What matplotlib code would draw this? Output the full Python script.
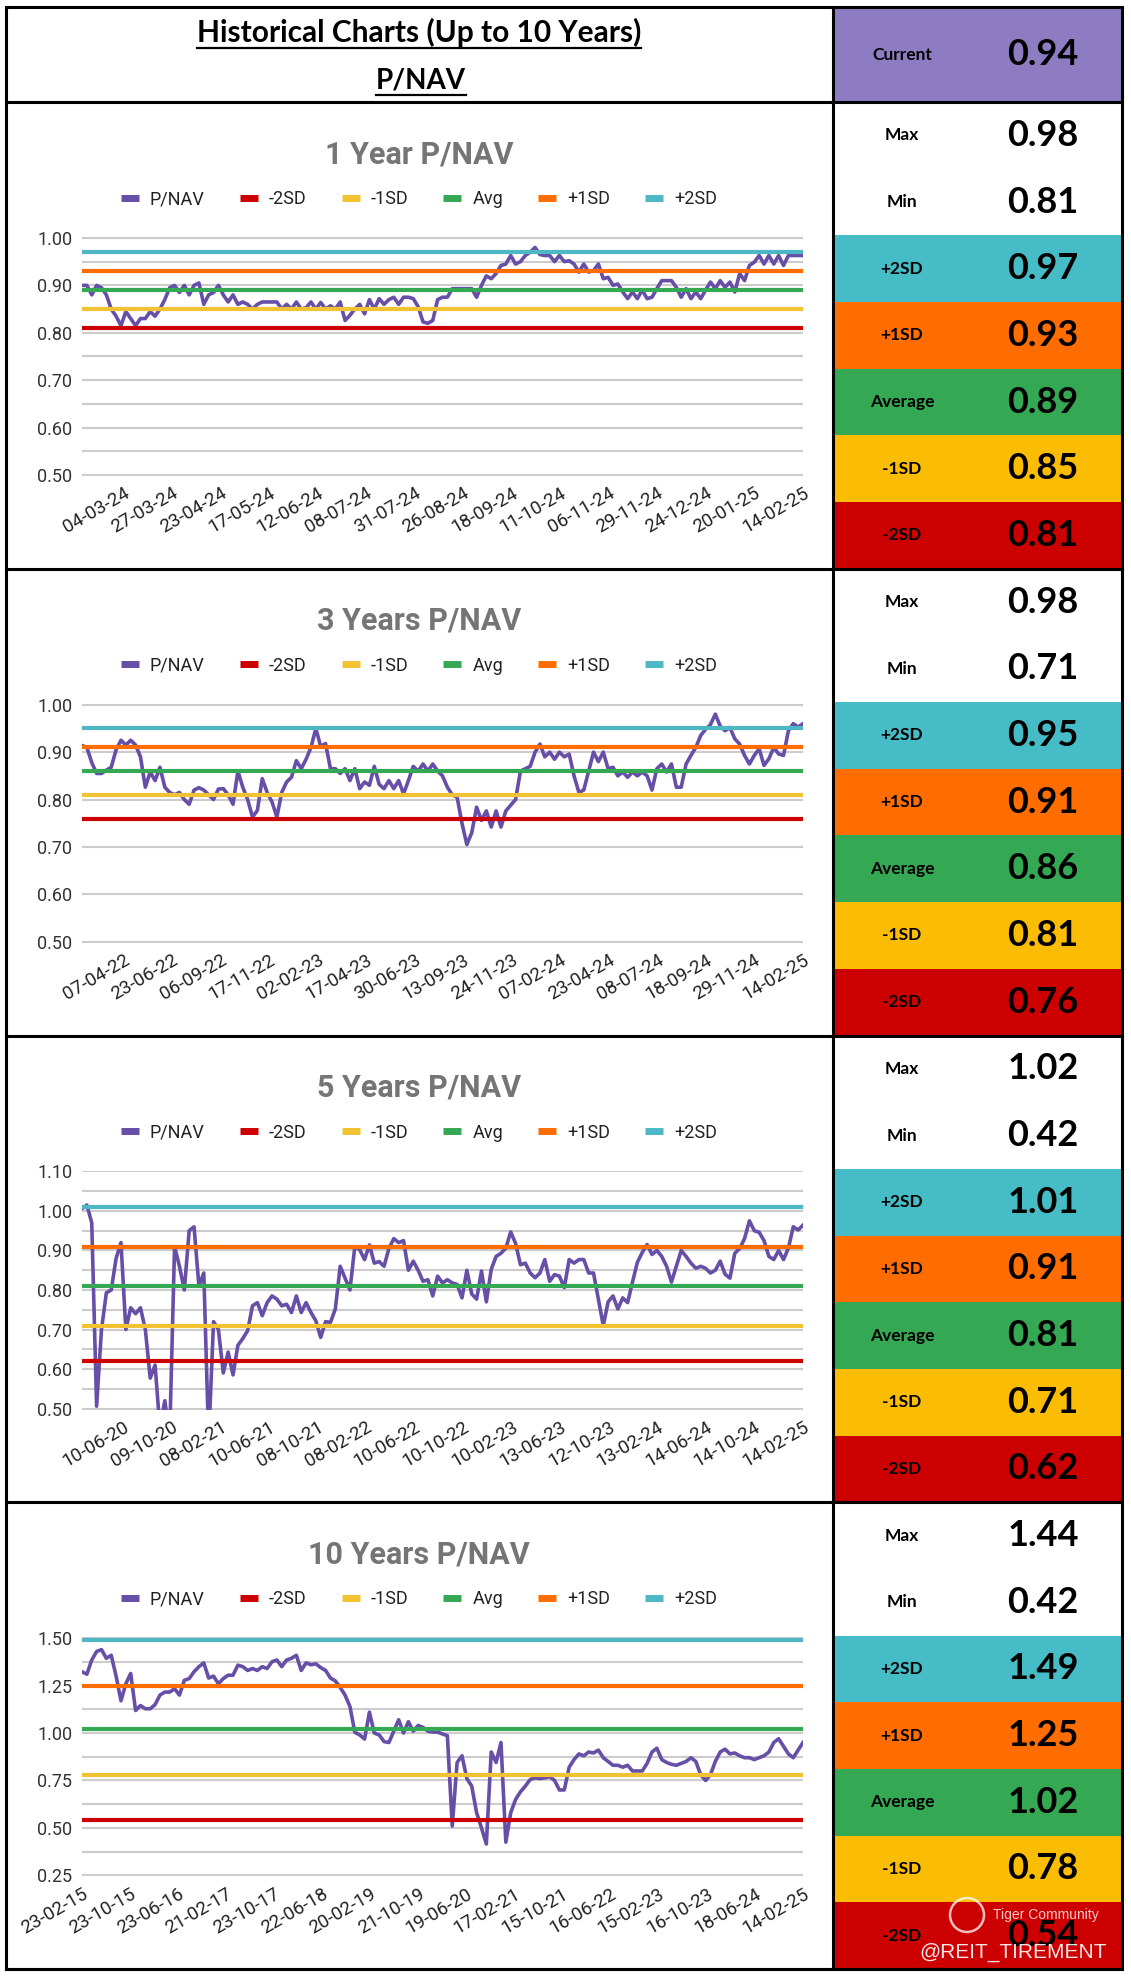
import numpy as np
import matplotlib.pyplot as plt
from matplotlib.lines import Line2D
from matplotlib.patches import Rectangle, Circle

# ---- data ----
pnav_1y = [
    0.90, 0.90, 0.88, 0.90, 0.895, 0.88, 0.85, 0.835, 0.815, 0.845,
    0.83, 0.815, 0.83, 0.83, 0.845, 0.835, 0.85, 0.87, 0.895, 0.90,
    0.885, 0.90, 0.88, 0.90, 0.905, 0.86, 0.88, 0.885, 0.90, 0.88,
    0.865, 0.88, 0.86, 0.865, 0.86, 0.85, 0.86, 0.865, 0.865, 0.865,
    0.865, 0.85, 0.86, 0.85, 0.865, 0.85, 0.853, 0.865, 0.85, 0.864,
    0.85, 0.857, 0.85, 0.865, 0.826, 0.837, 0.85, 0.86, 0.84, 0.87,
    0.85, 0.872, 0.86, 0.87, 0.875, 0.86, 0.875, 0.875, 0.872, 0.855,
    0.823, 0.82, 0.826, 0.87, 0.875, 0.875, 0.893, 0.893, 0.893, 0.893,
    0.893, 0.875, 0.90, 0.92, 0.914, 0.925, 0.942, 0.945, 0.963, 0.945,
    0.95, 0.963, 0.97, 0.98, 0.965, 0.963, 0.963, 0.95, 0.963, 0.95,
    0.952, 0.945, 0.928, 0.945, 0.928, 0.931, 0.945, 0.914, 0.917, 0.90,
    0.903, 0.886, 0.872, 0.886, 0.872, 0.89, 0.872, 0.875, 0.893, 0.91,
    0.91, 0.91, 0.896, 0.875, 0.893, 0.872, 0.886, 0.872, 0.89, 0.907,
    0.893, 0.91, 0.896, 0.907, 0.886, 0.925, 0.91, 0.942, 0.949, 0.963,
    0.945, 0.963, 0.945, 0.963, 0.942, 0.963, 0.963, 0.963, 0.963]

pnav_3y = [
    0.914, 0.91, 0.878, 0.855, 0.855, 0.862, 0.868, 0.905, 0.925, 0.915,
    0.925, 0.915, 0.89, 0.826, 0.858, 0.84, 0.868, 0.826, 0.815, 0.81,
    0.815, 0.80, 0.79, 0.82, 0.825, 0.82, 0.81, 0.80, 0.822, 0.823,
    0.81, 0.79, 0.86, 0.826, 0.80, 0.763, 0.777, 0.844, 0.815, 0.795,
    0.763, 0.815, 0.837, 0.847, 0.882, 0.865, 0.885, 0.91, 0.95, 0.912,
    0.918, 0.865, 0.865, 0.855, 0.865, 0.84, 0.865, 0.823, 0.837, 0.83,
    0.87, 0.832, 0.823, 0.84, 0.823, 0.84, 0.812, 0.84, 0.87, 0.86,
    0.875, 0.86, 0.875, 0.86, 0.85, 0.826, 0.81, 0.805, 0.75, 0.705,
    0.73, 0.784, 0.756, 0.776, 0.742, 0.776, 0.742, 0.776, 0.788, 0.80,
    0.86, 0.865, 0.87, 0.90, 0.917, 0.89, 0.90, 0.885, 0.90, 0.89,
    0.896, 0.85, 0.815, 0.82, 0.86, 0.90, 0.88, 0.90, 0.865, 0.868,
    0.85, 0.858, 0.847, 0.858, 0.85, 0.858, 0.85, 0.82, 0.865, 0.875,
    0.858, 0.875, 0.826, 0.826, 0.875, 0.893, 0.91, 0.935, 0.948, 0.958,
    0.98, 0.955, 0.945, 0.952, 0.928, 0.917, 0.893, 0.875, 0.893, 0.907,
    0.872, 0.886, 0.91, 0.896, 0.893, 0.945, 0.96, 0.953, 0.96]

pnav_5y = [
    1.006, 1.015, 0.97, 0.506, 0.70, 0.793, 0.80, 0.88, 0.92, 0.70,
    0.755, 0.74, 0.755, 0.70, 0.577, 0.61, 0.45, 0.52, 0.43, 0.91,
    0.86, 0.80, 0.95, 0.96, 0.81, 0.843, 0.42, 0.72, 0.70, 0.59,
    0.643, 0.585, 0.66, 0.677, 0.697, 0.76, 0.768, 0.735, 0.768, 0.785,
    0.777, 0.76, 0.764, 0.743, 0.785, 0.743, 0.768, 0.743, 0.722, 0.68,
    0.72, 0.718, 0.752, 0.86, 0.83, 0.80, 0.91, 0.902, 0.877, 0.914,
    0.868, 0.872, 0.86, 0.905, 0.93, 0.92, 0.925, 0.85, 0.873, 0.85,
    0.822, 0.826, 0.785, 0.835, 0.818, 0.826, 0.818, 0.814, 0.78, 0.85,
    0.79, 0.777, 0.848, 0.77, 0.852, 0.885, 0.893, 0.906, 0.947, 0.918,
    0.864, 0.868, 0.843, 0.831, 0.843, 0.877, 0.822, 0.839, 0.835, 0.806,
    0.877, 0.868, 0.877, 0.877, 0.843, 0.843, 0.777, 0.71, 0.77, 0.785,
    0.752, 0.78, 0.768, 0.82, 0.87, 0.895, 0.915, 0.89, 0.90, 0.885,
    0.86, 0.82, 0.86, 0.90, 0.885, 0.868, 0.855, 0.86, 0.855, 0.843,
    0.85, 0.873, 0.84, 0.83, 0.893, 0.905, 0.93, 0.975, 0.95, 0.946,
    0.925, 0.885, 0.877, 0.90, 0.877, 0.906, 0.96, 0.952, 0.964]

pnav_10y = [
    1.323, 1.31, 1.385, 1.43, 1.44, 1.394, 1.41, 1.30, 1.17, 1.26,
    1.314, 1.119, 1.145, 1.128, 1.128, 1.15, 1.20, 1.216, 1.216, 1.234,
    1.20, 1.278, 1.287, 1.323, 1.35, 1.37, 1.29, 1.30, 1.26, 1.287,
    1.305, 1.305, 1.358, 1.35, 1.33, 1.34, 1.33, 1.35, 1.34, 1.376,
    1.385, 1.35, 1.385, 1.394, 1.41, 1.33, 1.37, 1.36, 1.365, 1.345,
    1.33, 1.29, 1.275, 1.24, 1.20, 1.14, 1.004, 0.99, 0.968, 1.11,
    1.00, 0.99, 0.955, 0.95, 1.01, 1.07, 1.00, 1.06, 1.01, 1.04,
    1.03, 1.01, 1.005, 1.005, 0.995, 0.986, 0.51, 0.845, 0.88, 0.76,
    0.72, 0.58, 0.50, 0.415, 0.90, 0.845, 0.95, 0.425, 0.58, 0.65,
    0.69, 0.72, 0.755, 0.764, 0.76, 0.764, 0.77, 0.75, 0.70, 0.70,
    0.82, 0.86, 0.89, 0.88, 0.90, 0.895, 0.91, 0.87, 0.85, 0.83,
    0.83, 0.82, 0.83, 0.80, 0.80, 0.80, 0.84, 0.90, 0.92, 0.86,
    0.845, 0.835, 0.83, 0.84, 0.85, 0.87, 0.85, 0.78, 0.75, 0.78,
    0.85, 0.90, 0.915, 0.89, 0.895, 0.88, 0.87, 0.87, 0.86, 0.87,
    0.88, 0.90, 0.95, 0.97, 0.93, 0.89, 0.87, 0.91, 0.95]

dates_1y = ['04-03-24', '27-03-24', '23-04-24', '17-05-24', '12-06-24',
            '08-07-24', '31-07-24', '26-08-24', '18-09-24', '11-10-24',
            '06-11-24', '29-11-24', '24-12-24', '20-01-25', '14-02-25']
dates_3y = ['07-04-22', '23-06-22', '06-09-22', '17-11-22', '02-02-23',
            '17-04-23', '30-06-23', '13-09-23', '24-11-23', '07-02-24',
            '23-04-24', '08-07-24', '18-09-24', '29-11-24', '14-02-25']
dates_5y = ['10-06-20', '09-10-20', '08-02-21', '10-06-21', '08-10-21',
            '08-02-22', '10-06-22', '10-10-22', '10-02-23', '13-06-23',
            '12-10-23', '13-02-24', '14-06-24', '14-10-24', '14-02-25']
dates_10y = ['23-02-15', '23-10-15', '23-06-16', '21-02-17', '23-10-17',
             '22-06-18', '20-02-19', '21-10-19', '19-06-20', '17-02-21',
             '15-10-21', '16-06-22', '15-02-23', '16-10-23', '18-06-24',
             '14-02-25']

# Max, Min, +2SD, +1SD, Average, -1SD, -2SD
stat_names = ['Max', 'Min', '+2SD', '+1SD', 'Average', '-1SD', '-2SD']
stats_1y = [0.98, 0.81, 0.97, 0.93, 0.89, 0.85, 0.81]
stats_3y = [0.98, 0.71, 0.95, 0.91, 0.86, 0.81, 0.76]
stats_5y = [1.02, 0.42, 1.01, 0.91, 0.81, 0.71, 0.62]
stats_10y = [1.44, 0.42, 1.49, 1.25, 1.02, 0.78, 0.54]
current = 0.94

titles = ['1 Year P/NAV', '3 Years P/NAV', '5 Years P/NAV', '10 Years P/NAV']

# ---- styles ----
cell_colors = ['white', 'white', '#46BDC6', '#FF6D01', '#34A853', '#FBBC04', '#CC0000']
sd_names = ['-2SD', '-1SD', 'Avg', '+1SD', '+2SD']
sd_colors = ['#CC0000', '#F1C232', '#34A853', '#FF6D01', '#4DB8C4']
pnav_color = '#674EA7'
chart_font = 'Roboto'
cell_font = 'Lato'

W, H = 1131, 1978
fig = plt.figure(figsize=(W / 100, H / 100), dpi=100)
bg = fig.add_axes([0, 0, 1, 1])
bg.set_xlim(0, W)
bg.set_ylim(H, 0)
bg.axis('off')

x_left, x_div, x_right = 6, 833, 1122
y_top, y_head = 7, 102
ph = 466.75
cell = ph / 7
lab_x, val_x = 902, 1043

# header
bg.add_patch(Rectangle((x_div, y_top), x_right - x_div, y_head - y_top,
                       facecolor='#8E7CC3', edgecolor='none'))
t1 = bg.text(419, 32, 'Historical Charts (Up to 10 Years)', ha='center', va='center',
             fontsize=21.5, fontweight='bold', family=cell_font)
t2 = bg.text(421, 81, 'P/NAV', ha='center', va='center',
             fontsize=20, fontweight='bold', family=cell_font)
bg.text(lab_x, (y_top + y_head) / 2, 'Current', ha='center', va='center',
        fontsize=12.5, fontweight='bold', family=cell_font)
bg.text(val_x, (y_top + y_head) / 2, f'{current:.2f}', ha='center', va='center',
        fontsize=26, fontweight='bold', family=cell_font)

panels = [
    (pnav_1y, dates_1y, stats_1y, 0.5, 1.0, 0.1, 0.05),
    (pnav_3y, dates_3y, stats_3y, 0.5, 1.0, 0.1, 0.1),
    (pnav_5y, dates_5y, stats_5y, 0.5, 1.1, 0.1, 0.05),
    (pnav_10y, dates_10y, stats_10y, 0.25, 1.5, 0.25, 0.125),
]

for k, (vals, dates, stats, ymin, ymax, major, minor) in enumerate(panels):
    T = y_head + k * ph

    # right column
    for j in range(7):
        y0 = T + j * cell
        bg.add_patch(Rectangle((x_div, y0), x_right - x_div, cell,
                               facecolor=cell_colors[j], edgecolor='none'))
        bg.text(lab_x, y0 + cell / 2, stat_names[j], ha='center', va='center',
                fontsize=12.5, fontweight='bold', family=cell_font)
        bg.text(val_x, y0 + cell / 2, f'{stats[j]:.2f}', ha='center', va='center',
                fontsize=26, fontweight='bold', family=cell_font)

    # chart title + legend
    bg.text(419, T + 52, titles[k], ha='center', va='center', fontsize=22,
            fontweight='bold', color='#757575', family=chart_font)
    handles = [Line2D([], [], color=pnav_color, lw=5, solid_capstyle='butt')]
    handles += [Line2D([], [], color=c, lw=5, solid_capstyle='butt') for c in sd_colors]
    fig.legend(handles, ['P/NAV'] + sd_names, loc='center',
               bbox_to_anchor=(419 / W, 1 - (T + 97) / H), ncol=6, frameon=False,
               prop={'family': chart_font, 'size': 13}, handlelength=1.0,
               handletextpad=0.6, columnspacing=1.95, labelcolor='#222222')

    ax = fig.add_axes([82 / W, 1 - (T + 374) / H, 721 / W, 239 / H])
    n = len(vals)
    x = np.arange(n)
    ax.plot(x, vals, color=pnav_color, lw=2.6, zorder=3)
    sd_levels = [stats[6], stats[5], stats[4], stats[3], stats[2]]
    for lvl, c in zip(sd_levels, sd_colors):
        ax.plot([0, n - 1], [lvl, lvl], color=c, lw=3, zorder=4, solid_capstyle='butt')

    pad = (ymax - ymin) * 0.004
    ax.set_ylim(ymin - pad, ymax + pad)
    ax.set_xlim(0, n - 1)
    majors = np.arange(ymin, ymax + 1e-9, major)
    ax.set_yticks(majors, [f'{v:.2f}' for v in majors])
    ax.set_yticks(np.arange(ymin, ymax + 1e-9, minor), minor=True)
    ax.grid(axis='y', which='both', color='#CCCCCC', lw=1.5)
    ax.set_axisbelow(True)
    for s in ax.spines.values():
        s.set_visible(False)
    ax.tick_params(axis='y', which='both', length=0, pad=7, labelsize=13,
                   labelcolor='#333333')
    for lab in ax.get_yticklabels():
        lab.set_family(chart_font)

    m = len(dates)
    if m == 16:
        pos = [i / 15 * (n - 1) for i in range(m)]
    else:
        pos = [(1 - 0.0673 * (m - 1 - i)) * (n - 1) for i in range(m)]
    ax.set_xticks(pos, dates, rotation=30, ha='right', rotation_mode='anchor',
                  family=chart_font, fontsize=13.5, color='#222222')
    ax.tick_params(axis='x', length=0, pad=6)

    # panel separator
    bg.plot([x_left, x_right], [T + ph, T + ph], color='black', lw=2.2)

# grid lines of the sheet
bg.plot([x_left, x_right], [y_head, y_head], color='black', lw=2.2)
bg.plot([x_div, x_div], [y_top, H - 9], color='black', lw=2.2)
bg.add_patch(Rectangle((x_left, y_top), x_right - x_left, H - 9 - y_top,
                       facecolor='none', edgecolor='black', lw=2.2))

# watermark
bg.add_patch(Circle((967, 1915), 17, facecolor='none', edgecolor='white',
                    lw=1.8, alpha=0.75))
bg.text(993, 1915, 'Tiger Community', ha='left', va='center', fontsize=10,
        color='white', alpha=0.8, family='Liberation Sans')
bg.text(1107, 1952, '@REIT_TIREMENT', ha='right', va='center', fontsize=15,
        color='white', alpha=0.9, family='Liberation Sans')

# underline the header texts
fig.canvas.draw()
r = fig.canvas.get_renderer()
inv = bg.transData.inverted()
for t in (t1, t2):
    bb = t.get_window_extent(r)
    (xa, ya), (xb, yb) = inv.transform([[bb.x0, bb.y0], [bb.x1, bb.y1]])
    bg.plot([xa, xb], [ya + 1, ya + 1], color='black', lw=1.6)

fig.savefig('out.png', dpi=100)
